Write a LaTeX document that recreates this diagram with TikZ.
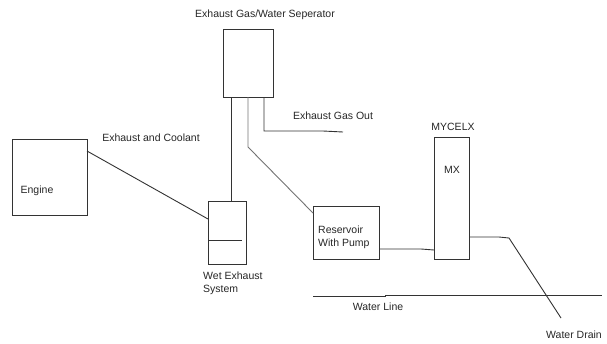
\documentclass[tikz,border=0pt]{standalone}
\usepackage{fontspec}
\setmainfont{Liberation Sans}
\begin{document}
\begin{tikzpicture}[x=1pt,y=-1pt,
  box/.style={draw=black!80,line width=0.9pt,inner sep=0pt,anchor=north west},
  pipe/.style={draw=black!80,line width=0.9pt},
  lbl/.style={font=\fontsize{10.5}{13}\selectfont,inner sep=0pt,text=black!85},
  lbll/.style={lbl,align=left,anchor=west}]
\useasboundingbox (0,0) rectangle (607,343);
% boxes
\node[box,minimum width=50pt,minimum height=68pt] (sep) at (223,29) {};
\node[box,minimum width=75pt,minimum height=76pt] (eng) at (12,139) {};
\node[box,minimum width=38pt,minimum height=63pt] (wet) at (208,201) {};
\node[box,minimum width=66pt,minimum height=53pt] (res) at (313,206) {};
\node[box,minimum width=35pt,minimum height=122pt] (mx) at (434,137) {};
% coordinates on boxes
\coordinate (s1) at (231,97);
\coordinate (s2) at (248,97);
\coordinate (s3) at (264,97);
\coordinate (e1) at (87,151);
\coordinate (w1) at (208,219);
\coordinate (w2) at (231,201);
\coordinate (wi1) at (208,240);
\coordinate (wi2) at (242,240);
\coordinate (r1) at (313,213);
\coordinate (r2) at (379,249);
\coordinate (m1) at (434,250);
\coordinate (m2) at (469,237);
\coordinate (gasout) at (343,132);
\coordinate (drain) at (561,318);
\coordinate (wl1) at (313,296);
\coordinate (wl2) at (602,295);
% connectors
\draw[pipe] (e1) -- (w1);
\draw[pipe] (s1) -- (w2);
\draw[pipe,draw=black!55] (s2) -- (248,147) -- (r1);
\draw[pipe] (s3) -- (264,131) -- (323,131) -- (gasout);
\draw[pipe] (wi1) -- (wi2);
\draw[pipe] (r2) -- (421,249) -- (m1);
\draw[pipe] (m2) -- (499,237) -- (509,238) -- (drain);
\draw[pipe] (wl1) -- (385,296) -- (385,295) -- (wl2);
% labels
\node[lbl] (tsep) at (265,15) {Exhaust Gas/Water Seperator};
\node[lbl] (tgas) at (333,116) {Exhaust Gas Out};
\node[lbl] (tex) at (151,138) {Exhaust and Coolant};
\node[lbl] (teng) at (37,191) {Engine};
\node[lbll] (twet) at (203,283.5) {Wet Exhaust\\[-0.5pt]System};
\node[lbll] (tres) at (318,237.5) {Reservoir\\[-0.5pt]With Pump};
\node[lbl] (tmyc) at (453,127) {MYCELX};
\node[lbl] (tmx) at (452,170) {MX};
\node[lbl] (twl) at (378,307) {Water Line};
\node[lbl] (tdr) at (574,335) {Water Drain};
\end{tikzpicture}
\end{document}
